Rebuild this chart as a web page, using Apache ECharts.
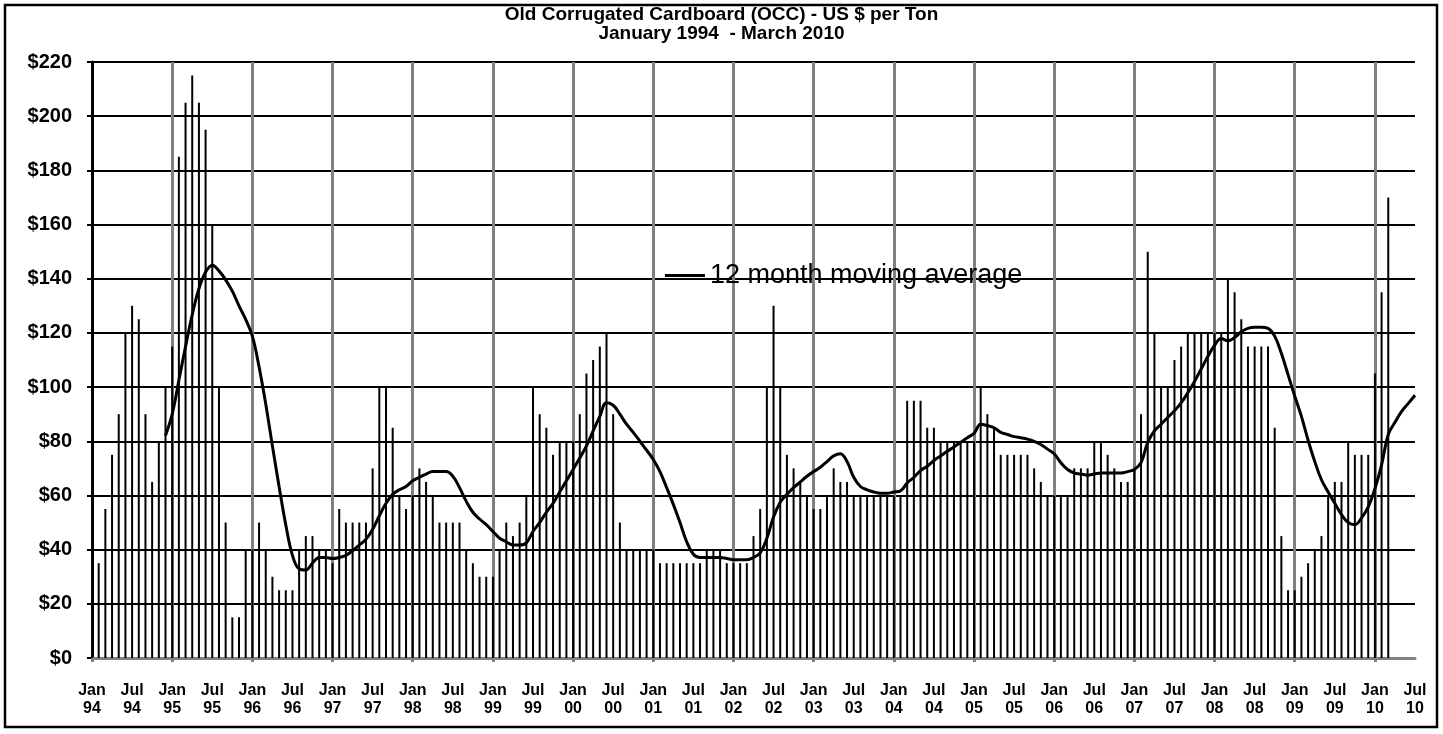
<!DOCTYPE html>
<html>
<head>
<meta charset="utf-8">
<title>Old Corrugated Cardboard (OCC)</title>
<script src="https://cdn.jsdelivr.net/npm/echarts@6/dist/echarts.min.js"></script>
<style>
  html, body { margin: 0; padding: 0; background: #fff; }
  #main { width: 1443px; height: 734px; }
</style>
</head>
<body>
<div id="main"></div>
<script>
// monthly price, US $ per ton
const p1994 = [20, 35, 55, 75, 90, 120, 130, 125, 90, 65, 80, 100];
const p1995 = [115, 185, 205, 215, 205, 195, 160, 100, 50, 15, 15, 40];
const p1996 = [40, 50, 40, 30, 25, 25, 25, 40, 45, 45, 40, 40];
const p1997 = [35, 55, 50, 50, 50, 50, 70, 100, 100, 85, 60, 55];
const p1998 = [60, 70, 65, 60, 50, 50, 50, 50, 40, 35, 30, 30];
const p1999 = [30, 40, 50, 45, 50, 60, 100, 90, 85, 75, 80, 80];
const p2000 = [80, 90, 105, 110, 115, 120, 90, 50, 40, 40, 40, 40];
const p2001 = [40, 35, 35, 35, 35, 35, 35, 35, 40, 40, 40, 35];
const p2002 = [35, 35, 35, 45, 55, 100, 130, 100, 75, 70, 65, 60];
const p2003 = [55, 55, 60, 70, 65, 65, 60, 60, 60, 60, 60, 60];
const p2004 = [60, 60, 95, 95, 95, 85, 85, 80, 80, 80, 80, 80];
const p2005 = [80, 100, 90, 85, 75, 75, 75, 75, 75, 70, 65, 60];
const p2006 = [60, 60, 60, 70, 70, 70, 80, 80, 75, 70, 65, 65];
const p2007 = [70, 90, 150, 120, 100, 100, 110, 115, 120, 120, 120, 120];
const p2008 = [120, 120, 140, 135, 125, 115, 115, 115, 115, 85, 45, 25];
const p2009 = [25, 30, 35, 40, 45, 60, 65, 65, 80, 75, 75, 75];
const p2010 = [105, 135, 170];

// 12 month moving average, starts Dec 94, runs to Jul 10
const ma1994 = [82.1];
const ma1995 = [90.0, 102.5, 115.0, 126.7, 136.3, 142.5, 145.0, 142.9, 139.6, 135.4, 130.0, 125.0];
const ma1996 = [118.8, 107.5, 93.8, 78.3, 63.3, 49.2, 37.9, 32.9, 32.5, 35.0, 37.1, 37.1];
const ma1997 = [36.7, 37.1, 37.9, 39.6, 41.7, 43.8, 47.5, 52.5, 57.1, 60.4, 62.1, 63.3];
const ma1998 = [65.4, 66.7, 67.9, 68.8, 68.8, 68.8, 67.1, 62.9, 57.9, 53.8, 51.3, 49.2];
const ma1999 = [46.7, 44.2, 42.9, 41.7, 41.7, 42.5, 46.7, 50.0, 53.8, 57.1, 61.3, 65.4];
const ma2000 = [69.6, 73.8, 78.3, 83.8, 89.2, 94.2, 93.3, 90.0, 86.3, 83.3, 80.0, 76.7];
const ma2001 = [73.3, 68.8, 62.9, 56.7, 50.0, 42.9, 38.3, 37.1, 37.1, 37.1, 37.1, 36.7];
const ma2002 = [36.3, 36.3, 36.3, 37.1, 38.8, 44.2, 52.1, 57.5, 60.4, 62.9, 65.0, 67.1];
const ma2003 = [68.8, 70.4, 72.5, 74.6, 75.4, 72.5, 66.7, 63.3, 62.1, 61.3, 60.8, 60.8];
const ma2004 = [61.3, 61.7, 64.6, 66.7, 69.2, 70.8, 72.9, 74.6, 76.3, 77.9, 79.6, 81.3];
const ma2005 = [82.9, 86.3, 85.8, 85.0, 83.3, 82.5, 81.7, 81.3, 80.8, 80.0, 78.8, 77.1];
const ma2006 = [75.4, 72.1, 69.6, 68.3, 67.9, 67.5, 67.9, 68.3, 68.3, 68.3, 68.3, 68.8];
const ma2007 = [69.6, 72.1, 79.6, 83.8, 86.3, 88.8, 91.3, 94.2, 97.9, 102.1, 106.7, 111.3];
const ma2008 = [115.4, 117.9, 117.1, 118.3, 120.4, 121.7, 122.1, 122.1, 121.7, 118.8, 112.5, 104.6];
const ma2009 = [96.7, 89.2, 80.4, 72.5, 65.8, 61.3, 57.1, 52.9, 50.0, 49.2, 51.7, 55.8];
const ma2010 = [62.5, 71.3, 82.5, 87, 91, 94, 97];

// axis labels
const years = ['94', '95', '96', '97', '98', '99', '00', '01', '02', '03', '04', '05', '06', '07', '08', '09', '10'];
const months = ['Jan', 'Feb', 'Mar', 'Apr', 'May', 'Jun', 'Jul', 'Aug', 'Sep', 'Oct', 'Nov', 'Dec'];
const lastMonth = 'Jul';

let categories = [];
years.forEach(y => {
  months.forEach(m => {
    if (y === '10' && months.indexOf(m) > months.indexOf(lastMonth)) return;
    categories.push(m + '\n' + y);
  });
});

const prices = [].concat(p1994, p1995, p1996, p1997, p1998, p1999, p2000, p2001, p2002,
  p2003, p2004, p2005, p2006, p2007, p2008, p2009, p2010);
const maValues = [].concat(ma1994, ma1995, ma1996, ma1997, ma1998, ma1999, ma2000, ma2001, ma2002,
  ma2003, ma2004, ma2005, ma2006, ma2007, ma2008, ma2009, ma2010);
// moving average begins in December of the first year
const maData = new Array(11).fill('-').concat(maValues);

const font = 'Liberation Sans, Arial, sans-serif';

let chart = echarts.init(document.getElementById('main'));
let option = {
  animation: false,
  backgroundColor: '#fff',
  title: {
    text: 'Old Corrugated Cardboard (OCC) - US $ per Ton\nJanuary 1994  - March 2010',
    left: 'center',
    top: 0,
    textStyle: { fontFamily: font, fontWeight: 'bold', fontSize: 19, lineHeight: 19, color: '#000' }
  },
  legend: {
    data: [{ name: '12 month moving average', icon: 'rect' }],
    left: 660,
    top: 257,
    itemWidth: 40,
    itemHeight: 3,
    textStyle: { fontFamily: font, fontSize: 27, color: '#000' }
  },
  graphic: [{
    type: 'rect',
    silent: true,
    shape: { x: 5, y: 5, width: 1432, height: 722 },
    style: { fill: 'none', stroke: '#000', lineWidth: 2.5 }
  }],
  grid: { left: 92, right: 28, top: 62, bottom: 76 },
  xAxis: {
    type: 'category',
    data: categories,
    boundaryGap: false,
    axisLine: { lineStyle: { color: '#808080', width: 3 } },
    axisTick: { show: true, interval: 11, length: 4, lineStyle: { color: '#808080', width: 3 } },
    axisLabel: {
      interval: 5,
      fontFamily: font,
      fontWeight: 'bold',
      fontSize: 16,
      lineHeight: 18,
      color: '#000',
      margin: 24
    },
    splitLine: { show: true, interval: 11, lineStyle: { color: '#808080', width: 3 } }
  },
  yAxis: {
    type: 'value',
    min: 0,
    max: 220,
    interval: 20,
    axisLine: { show: true, lineStyle: { color: '#000', width: 3 } },
    axisTick: { show: true, length: 5, lineStyle: { color: '#000', width: 2 } },
    axisLabel: {
      formatter: v => '$' + v,
      fontFamily: font,
      fontWeight: 'bold',
      fontSize: 20,
      color: '#000',
      margin: 20
    },
    splitLine: { lineStyle: { color: '#000', width: 2 } }
  },
  series: [
    {
      name: 'OCC',
      type: 'bar',
      data: prices,
      barWidth: 2,
      itemStyle: { color: '#000' }
    },
    {
      name: '12 month moving average',
      type: 'line',
      data: maData,
      smooth: 0.4,
      showSymbol: false,
      lineStyle: { color: '#000', width: 3 },
      itemStyle: { color: '#000' },
      z: 3
    }
  ]
};
chart.setOption(option);
</script>
</body>
</html>
